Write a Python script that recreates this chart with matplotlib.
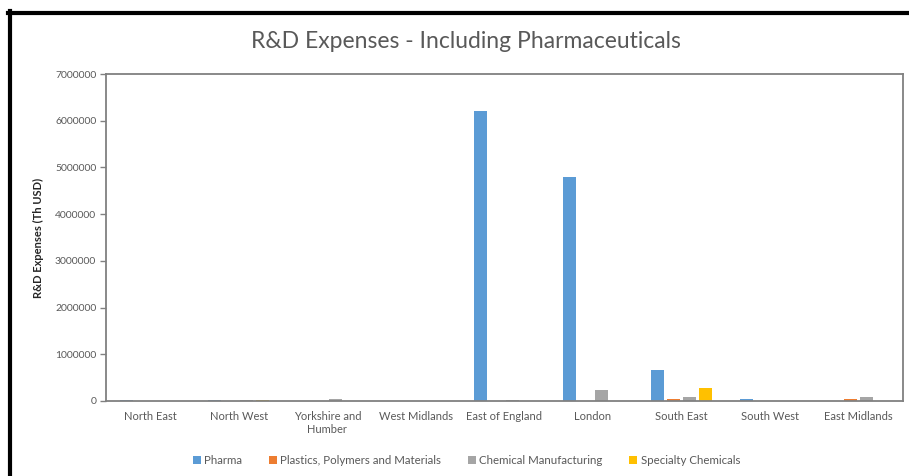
import numpy as np
import matplotlib.pyplot as plt
from matplotlib.lines import Line2D

plt.rcParams['font.family'] = ['Lato', 'DejaVu Sans']

regions = ["North East", "North West", "Yorkshire and\nHumber", "West Midlands",
           "East of England", "London", "South East", "South West", "East Midlands"]

pharma = [30000, 30000, 0, 0, 6200000, 4800000, 660000, 50000, 0]
plastics = [0, 0, 0, 0, 0, 0, 35000, 0, 35000]
chemical = [0, 30000, 50000, 0, 20000, 235000, 80000, 0, 80000]
specialty = [0, 20000, 0, 0, 0, 0, 285000, 0, 0]

series = [
    ("Pharma", pharma, "#5b9bd5"),
    ("Plastics, Polymers and Materials", plastics, "#ed7d31"),
    ("Chemical Manufacturing", chemical, "#a5a5a5"),
    ("Specialty Chemicals", specialty, "#ffc000"),
]

text_col = "#595959"
spine_col = "#808080"

fig = plt.figure(figsize=(9.09, 4.76), dpi=100)
ax = fig.add_axes([0.1166, 0.1576, 0.8768, 0.6869])

x = np.arange(len(regions))
step = 0.18
width = 0.147
for i, (name, vals, col) in enumerate(series):
    ax.bar(x + (i - 1.5) * step, vals, width=width, color=col, label=name)

ax.set_xlim(-0.5, len(regions) - 0.5)
ax.set_ylim(0, 7000000)
ax.set_yticks(np.arange(0, 7000001, 1000000))
ax.set_yticklabels([str(v) for v in range(0, 7000001, 1000000)])
ax.set_xticks(x)
ax.set_xticklabels(regions)

for s in ax.spines.values():
    s.set_color(spine_col)
    s.set_linewidth(1.3)
ax.tick_params(axis='y', colors=spine_col, labelcolor=text_col, labelsize=7.5,
               length=4, width=1.0, pad=3)
ax.tick_params(axis='x', length=0, labelcolor=text_col, labelsize=8, pad=7)

ax.set_ylabel("R&D Expenses (Th USD)", fontsize=8, color="#262626",
              fontweight='bold', labelpad=8)

fig.text(0.513, 0.912, "R&D Expenses - Including Pharmaceuticals",
         ha='center', va='center', fontsize=16.5, color=text_col)

leg = fig.legend(loc='center', bbox_to_anchor=(0.513, 0.032), ncol=4,
                 frameon=False, fontsize=8.3, handlelength=0.7, handleheight=0.7,
                 handletextpad=0.3, columnspacing=2.3)
for t in leg.get_texts():
    t.set_color(text_col)

# black outer frame (top and left edges)
fig.add_artist(Line2D([8 / 909, 1.0], [1 - 13 / 476, 1 - 13 / 476],
                      transform=fig.transFigure, color='black', lw=3))
fig.add_artist(Line2D([10 / 909, 10 / 909], [0, 1 - 11 / 476],
                      transform=fig.transFigure, color='black', lw=3))

fig.savefig("out.png", dpi=100)
